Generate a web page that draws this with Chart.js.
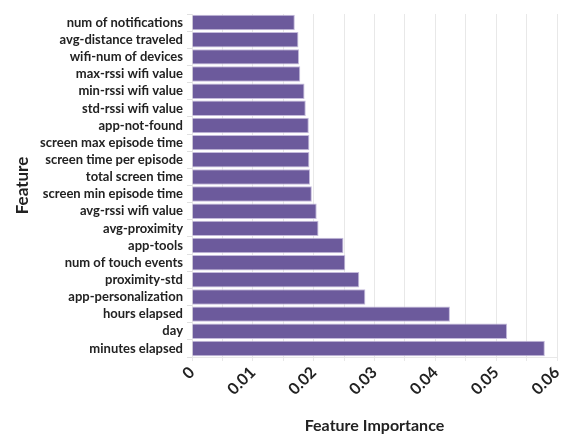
<!DOCTYPE html>
<html>
<head>
<meta charset="utf-8">
<script src="https://cdn.jsdelivr.net/npm/chart.js@4"></script>
<style>
  html, body { margin: 0; padding: 0; background: #fff; }
  #wrap { width: 568px; height: 435px; }
</style>
</head>
<body>
<div id="wrap"><canvas id="chart" width="568" height="435"></canvas></div>
<script>
'use strict';

// DATA
const features = [
  'num of notifications', 'avg-distance traveled', 'wifi-num of devices',
  'max-rssi wifi value', 'min-rssi wifi value', 'std-rssi wifi value',
  'app-not-found', 'screen max episode time', 'screen time per episode',
  'total screen time', 'screen min episode time', 'avg-rssi wifi value',
  'avg-proximity', 'app-tools', 'num of touch events', 'proximity-std',
  'app-personalization', 'hours elapsed', 'day', 'minutes elapsed'
];
const importance = [
  0.0169, 0.0175, 0.0176, 0.0178, 0.0185, 0.0187, 0.0192, 0.0193, 0.0193,
  0.0194, 0.0197, 0.0205, 0.0208, 0.0249, 0.0252, 0.0275, 0.0285, 0.0424,
  0.0518, 0.0580
];
const xMin = 0;
const xMax = 0.06;
const xStep = 0.005;

const FONT = 'Lato, "Noto Sans", sans-serif';
const TEXT = '#222';

function tickLabel(value) {
  // labels only every 0.01, minor gridlines in between
  let hundredths = Math.round(value * 1000);
  if (hundredths % 10 !== 0) return '';
  return value === 0 ? '0' : String(parseFloat(value.toFixed(2)));
}

const ctx = document.getElementById('chart');
new Chart(ctx, {
  type: 'bar',
  data: {
    labels: features,
    datasets: [{
      data: importance,
      backgroundColor: '#6c5a9c',
      borderColor: '#c4badb',
      borderWidth: 1,
      barPercentage: 0.9,
      categoryPercentage: 1
    }]
  },
  options: {
    indexAxis: 'y',
    responsive: false,
    animation: false,
    layout: { padding: { top: 14, right: 11, left: 0, bottom: 0 } },
    plugins: {
      legend: { display: false },
      tooltip: { enabled: false }
    },
    scales: {
      x: {
        min: xMin,
        max: xMax,
        ticks: {
          stepSize: xStep,
          autoSkip: false,
          minRotation: 45,
          maxRotation: 45,
          color: TEXT,
          font: { family: FONT, size: 16, weight: 'bold' },
          padding: 2,
          callback: tickLabel
        },
        grid: { color: '#e8e8e8', tickLength: 4 },
        border: { color: '#e8e8e8' },
        title: {
          display: true,
          text: 'Feature Importance',
          color: TEXT,
          font: { family: FONT, size: 16, weight: 'bold' },
          padding: { top: 12, bottom: 0 }
        },
        afterFit: function (scale) {
          scale.height = 78;
          scale.paddingLeft = 0;
          scale.paddingRight = 0;
        }
      },
      y: {
        ticks: {
          autoSkip: false,
          color: TEXT,
          font: { family: FONT, size: 13, weight: 'bold' },
          padding: 4
        },
        grid: { drawOnChartArea: false, color: '#e0e0e0', tickLength: 5 },
        border: { display: false },
        title: {
          display: true,
          text: 'Feature',
          color: TEXT,
          font: { family: FONT, size: 17, weight: 'bold' },
          padding: { top: 12, bottom: 0 }
        },
        afterFit: function (scale) { scale.width = 192; }
      }
    }
  }
});
</script>
</body>
</html>
